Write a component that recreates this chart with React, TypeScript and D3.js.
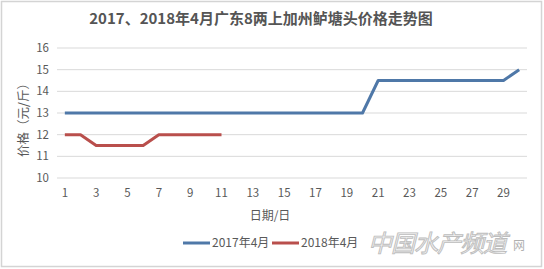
import React from "react";
import * as d3 from "d3";

const days = d3.range(1, 31);
const series2017 = [13,13,13,13,13,13,13,13,13,13,13,13,13,13,13,13,13,13,13,13,14.5,14.5,14.5,14.5,14.5,14.5,14.5,14.5,14.5,15];
const series2018 = [12,12,11.5,11.5,11.5,11.5,12,12,12,12,12];
const yTicks = [10, 11, 12, 13, 14, 15, 16];
const xTickLabels = [1,3,5,7,9,11,13,15,17,19,21,23,25,27,29];
const seriesNames = ["2017年4月", "2018年4月"];
const colors = ["#4f78a8", "#b94f4c"];
const title = "2017、2018年4月广东8两上加州鲈塘头价格走势图";

export default function App() {
  const W = 544, H = 269;
  const left = 57, right = 527, top = 48, bottom = 178;
  const x = d3.scaleBand<number>().domain(days).range([left, right]);
  const cx = (d: number) => (x(d) as number) + x.bandwidth() / 2;
  const y = d3.scaleLinear().domain([10, 16]).range([bottom, top]);
  const line = d3.line<number>().x((_, i) => cx(days[i])).y((v) => y(v));
  const font = "'Microsoft YaHei','Noto Sans CJK SC','Noto Sans',sans-serif";
  const data = [series2017, series2018];
  return (
    <svg width={W} height={H} style={{ position: "absolute", left: 0, top: 0, background: "#fff" }}>
      <rect x={1.5} y={1.5} width={540} height={265} fill="#fff" stroke="#d4d4d4" strokeWidth={1.5} />
      <text x={261} y={24} textAnchor="middle" fontSize={15} fontWeight="bold" fill="#555" fontFamily="'Noto Sans CJK SC',serif">{title}</text>
      {yTicks.map((t) => (
        <g key={t}>
          <line x1={left} x2={right} y1={y(t)} y2={y(t)} stroke="#d9d9d9" strokeWidth={1} />
          <text x={49} y={y(t) + 4} textAnchor="end" fontSize={11.5} fill="#595959" fontFamily={font}>{t}</text>
        </g>
      ))}
      {xTickLabels.map((d) => (
        <text key={d} x={cx(d)} y={197} textAnchor="middle" fontSize={11.5} fill="#595959" fontFamily={font}>{d}</text>
      ))}
      <text transform={`translate(27.5,117) rotate(-90)`} textAnchor="middle" fontSize={12.5} fill="#595959" fontFamily={font}>价格（元/斤）</text>
      <text x={270} y={220} textAnchor="middle" fontSize={12} fill="#595959" fontFamily={font}>日期/日</text>
      {data.map((s, i) => (
        <path key={i} d={line(s) || ""} fill="none" stroke={colors[i]} strokeWidth={3} strokeLinejoin="round" />
      ))}
      {seriesNames.map((n, i) => {
        const lx = i === 0 ? 183 : 272;
        return (
          <g key={n}>
            <line x1={lx} x2={lx + 27} y1={243} y2={243} stroke={colors[i]} strokeWidth={3} />
            <text x={lx + 29} y={247} fontSize={12} fill="#595959" fontFamily={font}>{n}</text>
          </g>
        );
      })}
      <text x={368} y={252} fontSize={24} fontStyle="italic" fill="#f2f2f2" stroke="#bdbdbd" strokeWidth={0.9} fontFamily={font} letterSpacing={-1}>中国水产频道</text>
      <text x={513} y={250} fontSize={12} fill="#b0b0b0" fontFamily={font}>网</text>
    </svg>
  );
}
